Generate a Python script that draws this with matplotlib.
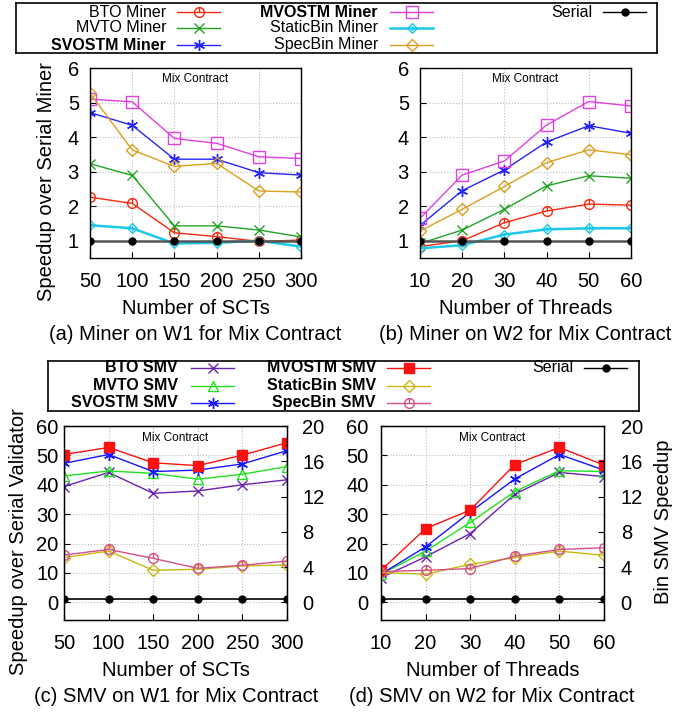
import numpy as np
import matplotlib
matplotlib.use('Agg')
import matplotlib.pyplot as plt
from matplotlib.path import Path

plt.rcParams['font.family'] = ['Liberation Sans', 'DejaVu Sans']

scts = [50, 100, 150, 200, 250, 300]
threads = [10, 20, 30, 40, 50, 60]

# miner speedup, W1 (x = SCTs)
bto_w1 = [2.26, 2.08, 1.23, 1.12, 0.98, 1.02]
mvto_w1 = [3.23, 2.89, 1.43, 1.43, 1.31, 1.11]
svostm_w1 = [4.71, 4.34, 3.36, 3.36, 2.97, 2.90]
mvostm_w1 = [5.10, 5.02, 3.96, 3.82, 3.43, 3.38]
static_w1 = [1.45, 1.36, 0.92, 0.94, 1.00, 0.83]
spec_w1 = [5.27, 3.63, 3.15, 3.24, 2.44, 2.41]

# miner speedup, W2 (x = threads)
bto_w2 = [0.83, 1.00, 1.52, 1.86, 2.06, 2.03]
mvto_w2 = [0.92, 1.31, 1.91, 2.59, 2.88, 2.81]
svostm_w2 = [1.44, 2.45, 3.05, 3.86, 4.33, 4.11]
mvostm_w2 = [1.65, 2.90, 3.31, 4.35, 5.03, 4.90]
static_w2 = [0.78, 0.87, 1.18, 1.33, 1.36, 1.36]
spec_w2 = [1.28, 1.91, 2.57, 3.26, 3.63, 3.49]

serial = [1, 1, 1, 1, 1, 1]

# SMV speedup, W1
bto_smv_w1 = [39.4, 44.2, 37.1, 37.9, 40.0, 41.7]
mvto_smv_w1 = [43.0, 44.7, 43.9, 41.9, 43.6, 46.2]
svostm_smv_w1 = [47.3, 50.3, 44.5, 45.0, 47.1, 51.6]
mvostm_smv_w1 = [50.3, 52.7, 47.5, 46.5, 50.1, 54.3]
static_smv_w1 = [5.07, 5.82, 3.64, 3.75, 4.13, 4.24]
spec_smv_w1 = [5.37, 6.00, 4.99, 3.86, 4.20, 4.69]

# SMV speedup, W2
bto_smv_w2 = [8.4, 15.5, 23.4, 36.8, 44.2, 42.8]
mvto_smv_w2 = [9.6, 17.4, 27.2, 37.7, 44.8, 44.5]
svostm_smv_w2 = [9.6, 18.9, 30.7, 42.0, 50.3, 45.0]
mvostm_smv_w2 = [10.9, 25.1, 31.4, 46.9, 52.7, 46.7]
static_smv_w2 = [3.38, 3.19, 4.32, 5.07, 5.82, 5.33]
spec_smv_w2 = [3.49, 3.64, 3.83, 5.25, 6.00, 6.19]

# gnuplot-like markers: open shape with a little stroke inside
circ_tick = Path.make_compound_path(Path.unit_circle(), Path([(0, 0), (0, 1)]))
diam = Path([(0, -1), (1, 0), (0, 1), (-1, 0), (0, -1)])
diam_tick = Path.make_compound_path(diam, Path([(0, -0.5), (0, 0.5)]))

W, H = 675, 713
fig = plt.figure(figsize=(W / 100, H / 100), dpi=100)


def px_axes(x0, y0, x1, y1):
    return fig.add_axes([x0 / W, 1 - y1 / H, (x1 - x0) / W, (y1 - y0) / H])


miner_styles = [
    ('BTO Miner', 'normal', '#f52a10', circ_tick, 7, 1.0),
    ('MVTO Miner', 'normal', '#23a323', 'x', 7, 1.0),
    ('SVOSTM Miner', 'bold', '#2525f5', (6, 2, 0), 8, 1.0),
    ('MVOSTM Miner', 'bold', '#e040e0', 's', 8, 1.0),
    ('StaticBin Miner', 'normal', '#1cc8e8', diam_tick, 7, 1.8),
    ('SpecBin Miner', 'normal', '#d9a020', 'D', 6.5, 1.0),
]
smv_styles = [
    ('BTO SMV', '#6a22b0', 'x', 7, 1.0),
    ('MVTO SMV', '#20e020', '^', 7, 1.0),
    ('SVOSTM SMV', '#1515ff', (6, 2, 0), 8, 1.0),
    ('MVOSTM SMV', '#ff1010', 's', 6.5, 1.0),
    ('StaticBin SMV', '#c8b810', 'D', 6, 1.0),
    ('SpecBin SMV', '#d2508a', circ_tick, 7, 1.0),
]


def style_axes(ax, xs, ylim, yticks, xpad=10, ypad=8):
    ax.set_xlim(xs[0], xs[-1])
    ax.set_ylim(*ylim)
    ax.set_xticks(xs)
    ax.set_yticks(yticks)
    ax.tick_params(direction='in', labelsize=14.5, length=4, width=0.8)
    ax.tick_params(axis='x', pad=xpad)
    ax.tick_params(axis='y', pad=ypad)
    ax.grid(True, color='#bbbbbb', linestyle=':', linewidth=0.8)
    ax.set_axisbelow(True)
    for s in ax.spines.values():
        s.set_linewidth(1.0)
    ax.text(0.5, 0.94, 'Mix Contract', transform=ax.transAxes, ha='center',
            va='center', fontsize=8.5)


def set_labels(ax, xlabel, xy, ylabel=None, yxy=None, yax=None):
    ax.set_xlabel(xlabel, fontsize=14.5, va='center')
    ax.xaxis.set_label_coords(0.5, xy)
    if ylabel:
        yax = yax or ax
        yax.set_ylabel(ylabel, fontsize=14.5, va='center')
        yax.yaxis.set_label_coords(*yxy)


def draw_miner(ax, xs, series):
    for (lab, fw, c, m, ms, lw), ys in zip(miner_styles, series):
        ax.plot(xs, ys, color=c, marker=m, markersize=ms, linewidth=lw,
                markerfacecolor='none', markeredgecolor=c, markeredgewidth=1.0)
    ax.plot(xs, serial, color='#555555', linewidth=1.8, marker='o',
            markersize=5, markerfacecolor='black', markeredgecolor='black')


def draw_smv(ax, xs, left, right):
    for (lab, c, m, ms, lw), ys in zip(smv_styles[:4], left):
        fc = c if m == 's' else 'none'
        ax.plot(xs, ys, color=c, marker=m, markersize=ms, linewidth=lw,
                markerfacecolor=fc, markeredgecolor=c, markeredgewidth=1.0)
    ax.plot(xs, serial, color='black', linewidth=1.2, marker='o',
            markersize=5, markerfacecolor='black')
    ax2 = ax.twinx()
    for (lab, c, m, ms, lw), ys in zip(smv_styles[4:], right):
        ax2.plot(xs, ys, color=c, marker=m, markersize=ms, linewidth=lw,
                 markerfacecolor='none', markeredgecolor=c, markeredgewidth=1.0)
    ax2.set_ylim(-2, 20)
    ax2.set_yticks([0, 4, 8, 12, 16, 20])
    ax2.tick_params(direction='in', labelsize=14.5, length=4, width=0.8)
    return ax2


# (a)
ax_a = px_axes(90, 68, 301, 258)
draw_miner(ax_a, scts, [bto_w1, mvto_w1, svostm_w1, mvostm_w1, static_w1, spec_w1])
style_axes(ax_a, scts, (0.5, 6), [1, 2, 3, 4, 5, 6])
set_labels(ax_a, 'Number of SCTs', -0.265, 'Speedup over Serial Miner', (-0.205, 0.405))

# (b)
ax_b = px_axes(420, 68, 631, 258)
draw_miner(ax_b, threads, [bto_w2, mvto_w2, svostm_w2, mvostm_w2, static_w2, spec_w2])
style_axes(ax_b, threads, (0.5, 6), [1, 2, 3, 4, 5, 6])
set_labels(ax_b, 'Number of Threads', -0.265)

# (c)
ax_c = px_axes(64, 426, 287, 620)
ax_c2 = draw_smv(ax_c, scts, [bto_smv_w1, mvto_smv_w1, svostm_smv_w1, mvostm_smv_w1],
                 [static_smv_w1, spec_smv_w1])
style_axes(ax_c, scts, (-6, 60), [0, 10, 20, 30, 40, 50, 60], ypad=4)
ax_c2.tick_params(axis='y', pad=11)
set_labels(ax_c, 'Number of SCTs', -0.26, 'Speedup over Serial Validator', (-0.205, 0.405))

# (d)
ax_d = px_axes(381, 426, 604, 620)
ax_d2 = draw_smv(ax_d, threads, [bto_smv_w2, mvto_smv_w2, svostm_smv_w2, mvostm_smv_w2],
                 [static_smv_w2, spec_smv_w2])
style_axes(ax_d, threads, (-6, 60), [0, 10, 20, 30, 40, 50, 60], ypad=9)
ax_d2.tick_params(axis='y', pad=12)
set_labels(ax_d, 'Number of Threads', -0.26, 'Bin SMV Speedup', (1.265, 0.505), yax=ax_d2)

# captions
fig.text(195 / W, 1 - 335 / H, '(a) Miner on W1 for Mix Contract', ha='center', va='center', fontsize=14.5)
fig.text(525 / W, 1 - 335 / H, '(b) Miner on W2 for Mix Contract', ha='center', va='center', fontsize=14.5)
fig.text(176 / W, 1 - 696 / H, '(c) SMV on W1 for Mix Contract', ha='center', va='center', fontsize=14.5)
fig.text(492 / W, 1 - 696 / H, '(d) SMV on W2 for Mix Contract', ha='center', va='center', fontsize=14.5)


# legends drawn gnuplot-style: right aligned text, then the sample
def legend_box(x0, y0, x1, y1):
    lax = px_axes(x0, y0, x1, y1)
    lax.set_xlim(x0, x1)
    lax.set_ylim(y1, y0)
    lax.set_xticks([])
    lax.set_yticks([])
    for s in lax.spines.values():
        s.set_linewidth(1.2)
    return lax


def entry(lax, xt, xl, y, text, fw, c, m, ms, lw, fc='none', fs=11.5):
    lax.text(xt, y, text, ha='right', va='center', fontsize=fs, fontweight=fw)
    lax.plot([xl, xl + 43], [y, y], color=c, linewidth=lw)
    lax.plot([xl + 21.5], [y], marker=m, markersize=ms, color=c,
             markerfacecolor=fc, markeredgecolor=c, linestyle='none')


top = legend_box(16, 3, 657, 53)
rows_top = [12, 28, 45]
for i, (lab, fw, c, m, ms, lw) in enumerate(miner_styles):
    col, row = divmod(i, 3)
    xt = [166, 378][col]
    xl = [177, 390][col]
    entry(top, xt, xl, rows_top[row], lab, fw, c, m, ms, lw)
entry(top, 592, 603, rows_top[0], 'Serial', 'normal', 'black', 'o', 5,
      1.0, fc='black')

bot = legend_box(48, 361, 639, 411)
rows_bot = [368, 386, 403]
for i, (lab, c, m, ms, lw) in enumerate(smv_styles):
    col, row = divmod(i, 3)
    xt = [178, 376][col]
    xl = [191, 387][col]
    fc = c if m == 's' else 'none'
    entry(bot, xt, xl, rows_bot[row], lab, 'bold', c, m, ms, lw, fc=fc)
entry(bot, 573, 584, rows_bot[0], 'Serial', 'normal', 'black', 'o', 5,
      1.0, fc='black')

fig.savefig('out.png', dpi=100)
